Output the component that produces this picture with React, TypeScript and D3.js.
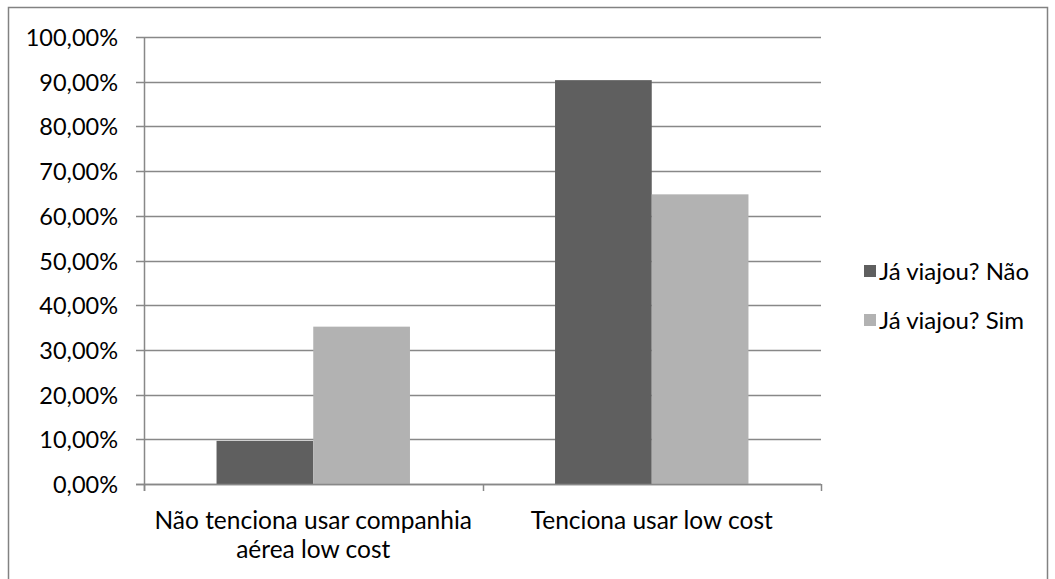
import React, { useEffect, useRef } from "react";
import * as d3 from "d3";

const categories = ["Não tenciona usar companhia aérea low cost", "Tenciona usar low cost"];
const seriesNames = ["Já viajou? Não", "Já viajou? Sim"];
const valuesNao = [0.0965, 0.9035];
const valuesSim = [0.352, 0.648];
const yTicks = [0, 0.1, 0.2, 0.3, 0.4, 0.5, 0.6, 0.7, 0.8, 0.9, 1.0];
const seriesColors = ["#5f5f5f", "#b2b2b2"];

const W = 1055;
const H = 579;
const FONT = "Lato, 'Open Sans', sans-serif";

export default function App() {
  const ref = useRef<SVGSVGElement | null>(null);

  useEffect(() => {
    const svg = d3.select(ref.current);
    svg.selectAll("*").remove();

    const left = 144;
    const right = 821;
    const top = 37;
    const bottom = 484;

    const y = d3.scaleLinear().domain([0, 1]).range([bottom, top]);
    const x0 = d3.scaleBand<string>().domain(categories).range([left, right]).padding(0);
    const x1 = d3
      .scaleBand<string>()
      .domain(seriesNames)
      .range([0, x0.bandwidth()])
      .paddingInner(0)
      .paddingOuter(0.75);

    const fmt = (v: number) => (v * 100).toFixed(2).replace(".", ",") + "%";

    // outer chart frame
    svg
      .append("rect")
      .attr("x", 8.5)
      .attr("y", 7.5)
      .attr("width", 1039)
      .attr("height", 600)
      .attr("fill", "white")
      .attr("stroke", "#828282")
      .attr("stroke-width", 1.5);

    // gridlines + y ticks
    const g = svg.append("g");
    yTicks.forEach((t) => {
      const yy = Math.round(y(t)) + 0.5;
      g.append("line")
        .attr("x1", 136)
        .attr("x2", right)
        .attr("y1", yy)
        .attr("y2", yy)
        .attr("stroke", "#888")
        .attr("stroke-width", 1.5);
      g.append("text")
        .attr("x", 118)
        .attr("y", yy)
        .attr("dy", "0.36em")
        .attr("text-anchor", "end")
        .attr("font-family", FONT)
        .attr("font-size", 23.5)
        .attr("fill", "#000")
        .text(fmt(t));
    });

    // bars
    const data = categories.map((c, i) => ({ c, vals: [valuesNao[i], valuesSim[i]] }));
    data.forEach((d) => {
      d.vals.forEach((v, j) => {
        const s = seriesNames[j];
        svg
          .append("rect")
          .attr("x", (x0(d.c) ?? 0) + (x1(s) ?? 0))
          .attr("y", y(v))
          .attr("width", x1.bandwidth())
          .attr("height", y(0) - y(v))
          .attr("fill", seriesColors[j]);
      });
    });

    // axis lines
    svg
      .append("line")
      .attr("x1", left + 0.5)
      .attr("x2", left + 0.5)
      .attr("y1", top)
      .attr("y2", bottom + 7)
      .attr("stroke", "#888")
      .attr("stroke-width", 1.5);
    svg
      .append("line")
      .attr("x1", 136)
      .attr("x2", right)
      .attr("y1", bottom + 0.5)
      .attr("y2", bottom + 0.5)
      .attr("stroke", "#888")
      .attr("stroke-width", 1.5);
    [left, left + x0.bandwidth(), right].forEach((xx) => {
      svg
        .append("line")
        .attr("x1", Math.round(xx) + 0.5)
        .attr("x2", Math.round(xx) + 0.5)
        .attr("y1", bottom)
        .attr("y2", bottom + 7)
        .attr("stroke", "#888")
        .attr("stroke-width", 1.5);
    });

    // category labels, wrapped to the band width
    categories.forEach((c) => {
      const cx = (x0(c) ?? 0) + x0.bandwidth() / 2;
      const text = svg
        .append("text")
        .attr("text-anchor", "middle")
        .attr("font-family", FONT)
        .attr("font-size", 24.5)
        .attr("fill", "#000");
      const words = c.split(" ");
      const lines: string[] = [];
      let line: string[] = [];
      const probe = text.append("tspan");
      words.forEach((w) => {
        const trial = [...line, w].join(" ");
        probe.text(trial);
        const len = (probe.node() as SVGTextContentElement).getComputedTextLength();
        if (len > x0.bandwidth() && line.length) {
          lines.push(line.join(" "));
          line = [w];
        } else {
          line.push(w);
        }
      });
      lines.push(line.join(" "));
      probe.remove();
      lines.forEach((l, i) => {
        text
          .append("tspan")
          .attr("x", cx)
          .attr("y", 529 + i * 29)
          .text(l);
      });
    });

    // legend
    const lg = svg.append("g");
    seriesNames.forEach((s, i) => {
      const ly = 271 + i * 49;
      lg.append("rect")
        .attr("x", 864)
        .attr("y", ly - 6)
        .attr("width", 12)
        .attr("height", 12)
        .attr("fill", seriesColors[i]);
      lg.append("text")
        .attr("x", 879)
        .attr("y", ly)
        .attr("dy", "0.36em")
        .attr("font-family", FONT)
        .attr("font-size", 24)
        .attr("fill", "#000")
        .text(s);
    });
  }, []);

  return (
    <svg
      ref={ref}
      width={W}
      height={H}
      style={{ position: "absolute", left: 0, top: 0, background: "white" }}
    />
  );
}
